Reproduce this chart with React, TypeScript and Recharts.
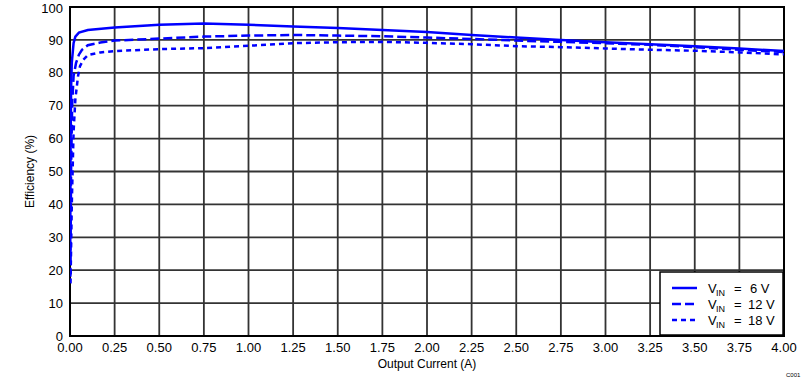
import React from "react";
import {
  LineChart,
  Line,
  XAxis,
  YAxis,
  CartesianGrid,
  ReferenceArea,
} from "recharts";

// output current (A) and efficiency (%) for each input voltage
const current6V = [0.001, 0.003, 0.006, 0.01, 0.02, 0.03, 0.05, 0.1, 0.25, 0.5, 0.75, 1.0, 1.25, 1.5, 1.75, 2.0, 2.25, 2.5, 2.75, 3.0, 3.25, 3.5, 3.75, 4.0];
const eff6V = [22, 55, 75, 83, 89, 91, 92.2, 93, 93.8, 94.6, 95, 94.6, 94.1, 93.6, 93, 92.4, 91.5, 90.7, 90, 89.3, 88.7, 88.1, 87.4, 86.6];

const current12V = [0.002, 0.006, 0.012, 0.02, 0.034, 0.05, 0.067, 0.1, 0.17, 0.25, 0.5, 0.75, 1.0, 1.25, 1.5, 1.75, 2.0, 2.25, 2.5, 2.75, 3.0, 3.25, 3.5, 3.75, 4.0];
const eff12V = [18, 50, 70, 79, 83, 85.5, 87, 88.4, 89.2, 89.8, 90.4, 91, 91.3, 91.5, 91.3, 91.1, 90.7, 90.3, 89.8, 89.4, 89.0, 88.5, 87.8, 87.0, 86.3];

const current18V = [0.003, 0.01, 0.02, 0.03, 0.045, 0.056, 0.075, 0.1, 0.17, 0.25, 0.5, 0.75, 1.0, 1.25, 1.5, 1.75, 2.0, 2.25, 2.5, 2.75, 3.0, 3.25, 3.5, 3.75, 4.0];
const eff18V = [16, 40, 62, 72, 79, 82, 84, 85.4, 86.2, 86.6, 87.2, 87.5, 88.2, 89, 89.3, 89.4, 89.1, 88.7, 88.1, 87.8, 87.4, 87, 86.7, 86.2, 85.6];

const xTicks = [0, 0.25, 0.5, 0.75, 1, 1.25, 1.5, 1.75, 2, 2.25, 2.5, 2.75, 3, 3.25, 3.5, 3.75, 4];
const yTicks = [0, 10, 20, 30, 40, 50, 60, 70, 80, 90, 100];

const toPoints = (xs: number[], ys: number[]) => xs.map((x, i) => ({ x, y: ys[i] }));

const series = [
  { key: "6", label: "6 V", data: toPoints(current6V, eff6V), dash: undefined as string | undefined },
  { key: "12", label: "12 V", data: toPoints(current12V, eff12V), dash: "9 4" },
  { key: "18", label: "18 V", data: toPoints(current18V, eff18V), dash: "5 4" },
];

const FONT = "'Liberation Sans', Arial, sans-serif";
const BLUE = "#0000FF";

const LegendBox = () => (
  <svg
    width={125}
    height={65}
    style={{ position: "absolute", left: 659, top: 271 }}
  >
    <rect x={1} y={1} width={123} height={63} fill="#fff" stroke="#000" strokeWidth={1.5} />
    {series.map((s, i) => {
      const y = 17 + i * 16;
      return (
        <g key={s.key} fontFamily={FONT} fill="#000">
          <line x1={13} x2={38} y1={y} y2={y} stroke={BLUE} strokeWidth={2.5} strokeDasharray={s.dash} />
          <text x={49} y={y + 5} fontSize={13}>V</text>
          <text x={57} y={y + 8} fontSize={9}>IN</text>
          <text x={75} y={y + 5} fontSize={13}>=</text>
          <text x={s.label.length > 3 ? 89 : 91} y={y + 5} fontSize={13}>{s.label}</text>
        </g>
      );
    })}
  </svg>
);

const App: React.FC = () => {
  return (
    <div style={{ position: "relative", width: 803, height: 382, background: "#fff" }}>
      <style>{"body{margin:0}"}</style>
      <LineChart
        width={803}
        height={382}
        margin={{ top: 7, right: 19, bottom: 16, left: 0 }}
      >
        <CartesianGrid stroke="#333" strokeWidth={1.8} xTicks={xTicks} />
        <XAxis
          type="number"
          dataKey="x"
          domain={[0, 4]}
          ticks={xTicks}
          tickFormatter={(v: number) => v.toFixed(2)}
          allowDataOverflow
          height={30}
          tickLine={false}
          axisLine={false}
          tickSize={5}
          tick={{ fontSize: 13, fill: "#000", fontFamily: FONT }}
          label={{ value: "Output Current (A)", position: "insideBottom", offset: -2, fontSize: 12, fill: "#000", fontFamily: FONT }}
        />
        <YAxis
          type="number"
          dataKey="y"
          domain={[0, 100]}
          ticks={yTicks}
          width={70}
          tickLine={false}
          axisLine={false}
          tickSize={4}
          tickMargin={3}
          tick={{ fontSize: 13, fill: "#000", fontFamily: FONT }}
          label={{ value: "Efficiency (%)", angle: -90, position: "insideLeft", offset: 30, fontSize: 12, fill: "#000", fontFamily: FONT, style: { textAnchor: "middle" } }}
        />
        <ReferenceArea x1={0} x2={4} y1={0} y2={100} fill="none" stroke="#000" strokeWidth={2} />
        {series.map((s) => (
          <Line
            key={s.key}
            data={s.data}
            dataKey="y"
            type="linear"
            stroke={BLUE}
            strokeWidth={2.5}
            strokeDasharray={s.dash}
            dot={false}
            activeDot={false}
            isAnimationActive={false}
          />
        ))}
      </LineChart>
      <LegendBox />
      <div
        style={{
          position: "absolute",
          left: 786,
          top: 372,
          fontSize: 6,
          fontFamily: FONT,
          color: "#000",
        }}
      >
        C001
      </div>
    </div>
  );
};

export default App;
